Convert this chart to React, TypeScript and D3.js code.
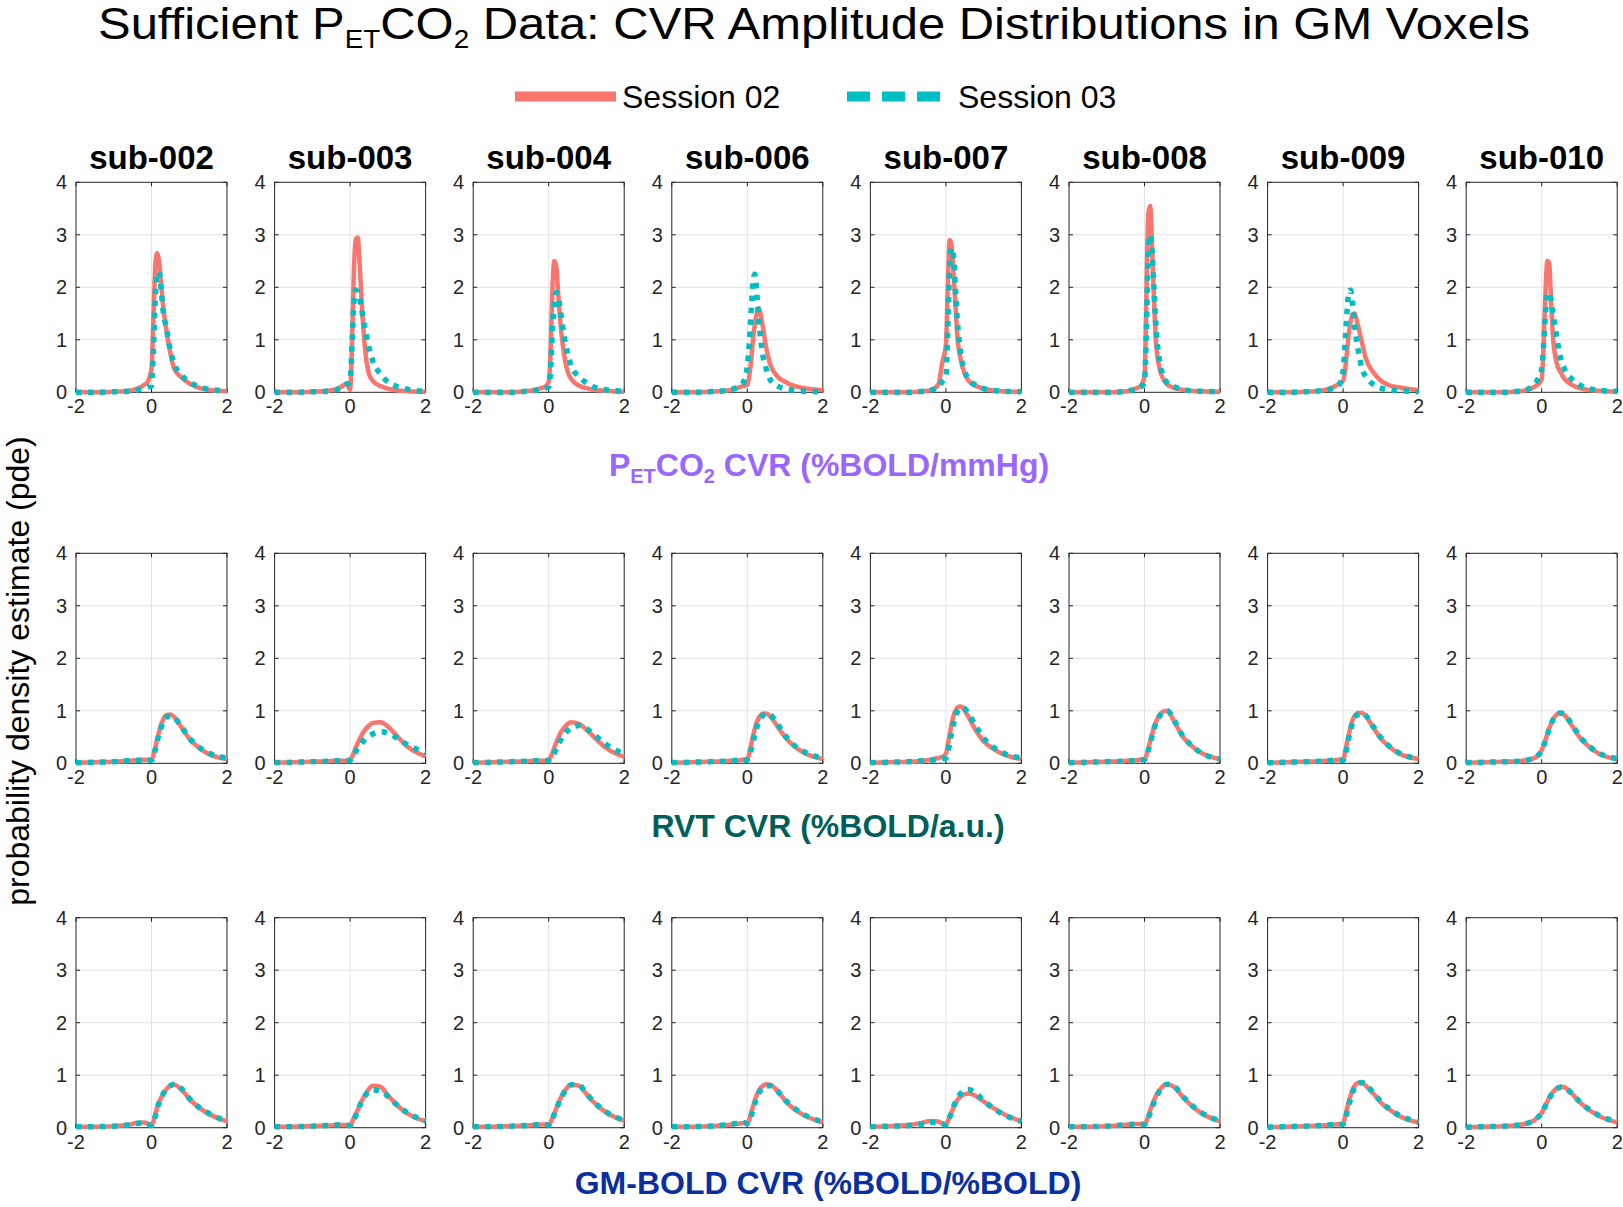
import React from 'react';
import * as d3 from 'd3';

const W = 1623;
const H = 1207;
const FONT = '"Liberation Sans", Arial, Helvetica, sans-serif';
const RED = '#F8766D';
const TEAL = '#00BFC4';

const subjects = ['sub-002', 'sub-003', 'sub-004', 'sub-006', 'sub-007', 'sub-008', 'sub-009', 'sub-010'];
const xTicks = [-2, 0, 2];
const yTicks = [0, 1, 2, 3, 4];
const sessionNames = ['Session 02', 'Session 03'];

// title pieces: [text, isSubscript]
const titleParts: [string, boolean][] = [
  ['Sufficient P', false],
  ['ET', true],
  ['CO', false],
  ['2', true],
  ['\u00A0Data: CVR Amplitude Distributions in GM Voxels', false],
];

// shared evaluation grid of CVR amplitude
const xGrid = [-2, -1.5, -1, -0.6, -0.4, -0.2, -0.1, 0, 0.05, 0.1, 0.15, 0.2, 0.25, 0.3, 0.4, 0.5, 0.6, 0.8, 1.0, 1.2, 1.5, 2.0];

// Row 1: PETCO2 CVR
const petco2S02 = [
  [0, 0, 0.01, 0.03, 0.06, 0.14, 0.2, 0.45, 1.4, 2.4, 2.65, 2.5, 2.1, 1.7, 1.15, 0.75, 0.45, 0.28, 0.17, 0.1, 0.05, 0.02],
  [0, 0, 0.01, 0.03, 0.05, 0.12, 0.17, 0.05, 0.9, 2.3, 2.9, 2.95, 2.5, 1.8, 0.8, 0.35, 0.22, 0.12, 0.07, 0.04, 0.02, 0.01],
  [0, 0, 0, 0.02, 0.04, 0.08, 0.1, 0.2, 0.8, 2.0, 2.5, 2.4, 1.9, 1.4, 0.75, 0.4, 0.25, 0.13, 0.08, 0.05, 0.03, 0.01],
  [0, 0, 0.01, 0.03, 0.05, 0.1, 0.12, 0.15, 0.3, 0.6, 1.0, 1.3, 1.5, 1.6, 1.3, 0.85, 0.55, 0.3, 0.2, 0.13, 0.08, 0.04],
  [0, 0, 0, 0.02, 0.04, 0.15, 0.55, 0.9, 2.0, 2.9, 2.8, 2.3, 1.7, 1.1, 0.6, 0.35, 0.22, 0.12, 0.07, 0.04, 0.02, 0.01],
  [0, 0, 0, 0.01, 0.03, 0.08, 0.12, 0.3, 1.8, 3.4, 3.55, 2.8, 1.8, 1.0, 0.45, 0.25, 0.15, 0.08, 0.05, 0.03, 0.02, 0.01],
  [0, 0, 0.01, 0.03, 0.06, 0.12, 0.17, 0.22, 0.4, 0.75, 1.1, 1.35, 1.48, 1.5, 1.25, 0.95, 0.65, 0.38, 0.22, 0.14, 0.09, 0.04],
  [0, 0, 0, 0.02, 0.04, 0.1, 0.15, 0.25, 0.9, 1.9, 2.5, 2.45, 1.7, 1.05, 0.55, 0.38, 0.26, 0.14, 0.08, 0.05, 0.03, 0.01],
];
const petco2S03 = [
  [0, 0, 0.01, 0.02, 0.04, 0.08, 0.1, 0.12, 0.8, 1.8, 2.25, 2.3, 2.0, 1.6, 1.2, 0.8, 0.55, 0.32, 0.2, 0.12, 0.06, 0.03],
  [0, 0, 0.01, 0.02, 0.04, 0.1, 0.15, 0.2, 0.9, 1.7, 1.95, 1.9, 1.8, 1.6, 1.2, 0.85, 0.6, 0.35, 0.2, 0.12, 0.06, 0.02],
  [0, 0, 0, 0.02, 0.03, 0.06, 0.08, 0.1, 0.4, 1.2, 1.7, 1.9, 1.85, 1.6, 1.1, 0.75, 0.5, 0.3, 0.18, 0.1, 0.05, 0.02],
  [0, 0, 0.01, 0.03, 0.06, 0.12, 0.2, 0.5, 0.9, 1.5, 2.1, 2.25, 1.9, 1.4, 0.75, 0.45, 0.25, 0.12, 0.07, 0.04, 0.02, 0.01],
  [0, 0, 0, 0.02, 0.04, 0.1, 0.2, 0.3, 1.2, 2.4, 2.75, 2.6, 2.0, 1.4, 0.7, 0.4, 0.25, 0.13, 0.07, 0.04, 0.02, 0.01],
  [0, 0, 0, 0.01, 0.03, 0.07, 0.1, 0.2, 1.2, 2.7, 3.0, 2.7, 2.0, 1.3, 0.6, 0.3, 0.18, 0.1, 0.06, 0.03, 0.02, 0.01],
  [0, 0, 0.01, 0.03, 0.05, 0.1, 0.15, 0.4, 0.9, 1.5, 1.9, 1.95, 1.7, 1.3, 0.8, 0.45, 0.3, 0.15, 0.08, 0.05, 0.03, 0.01],
  [0, 0, 0, 0.02, 0.05, 0.15, 0.25, 0.45, 0.9, 1.5, 1.85, 1.9, 1.75, 1.5, 1.05, 0.65, 0.45, 0.25, 0.14, 0.08, 0.04, 0.02],
];

// Row 2: RVT CVR
const rvtS02 = [
  [0.01, 0.02, 0.03, 0.05, 0.06, 0.07, 0.07, 0.07, 0.15, 0.3, 0.45, 0.6, 0.72, 0.82, 0.92, 0.93, 0.88, 0.68, 0.47, 0.33, 0.18, 0.08],
  [0.01, 0.02, 0.03, 0.04, 0.05, 0.05, 0.05, 0.06, 0.12, 0.2, 0.3, 0.38, 0.46, 0.53, 0.64, 0.72, 0.77, 0.78, 0.7, 0.55, 0.33, 0.13],
  [0.01, 0.02, 0.03, 0.04, 0.05, 0.05, 0.05, 0.06, 0.12, 0.2, 0.3, 0.4, 0.48, 0.56, 0.67, 0.75, 0.78, 0.75, 0.64, 0.5, 0.3, 0.12],
  [0.01, 0.02, 0.03, 0.04, 0.05, 0.06, 0.07, 0.08, 0.18, 0.35, 0.52, 0.66, 0.78, 0.86, 0.94, 0.95, 0.9, 0.7, 0.5, 0.35, 0.2, 0.08],
  [0.01, 0.02, 0.03, 0.05, 0.07, 0.1, 0.12, 0.18, 0.35, 0.55, 0.75, 0.9, 1.0, 1.06, 1.08, 1.0, 0.88, 0.62, 0.42, 0.3, 0.18, 0.08],
  [0.01, 0.02, 0.03, 0.04, 0.05, 0.06, 0.07, 0.08, 0.15, 0.28, 0.42, 0.55, 0.68, 0.78, 0.92, 0.99, 1.0, 0.78, 0.52, 0.36, 0.2, 0.08],
  [0.01, 0.02, 0.03, 0.04, 0.05, 0.06, 0.07, 0.07, 0.2, 0.38, 0.55, 0.7, 0.82, 0.9, 0.96, 0.96, 0.9, 0.68, 0.47, 0.33, 0.18, 0.08],
  [0.01, 0.02, 0.03, 0.04, 0.06, 0.1, 0.15, 0.25, 0.35, 0.45, 0.56, 0.67, 0.76, 0.84, 0.93, 0.96, 0.92, 0.72, 0.5, 0.35, 0.19, 0.08],
];
const rvtS03 = [
  [0.01, 0.02, 0.03, 0.05, 0.06, 0.06, 0.06, 0.06, 0.12, 0.26, 0.42, 0.55, 0.67, 0.78, 0.88, 0.9, 0.87, 0.69, 0.48, 0.34, 0.2, 0.1],
  [0.01, 0.02, 0.03, 0.04, 0.05, 0.05, 0.05, 0.06, 0.1, 0.16, 0.22, 0.28, 0.33, 0.38, 0.46, 0.52, 0.56, 0.6, 0.58, 0.5, 0.36, 0.2],
  [0.01, 0.02, 0.03, 0.04, 0.05, 0.05, 0.05, 0.06, 0.08, 0.14, 0.2, 0.27, 0.35, 0.42, 0.53, 0.62, 0.68, 0.72, 0.66, 0.55, 0.37, 0.18],
  [0.01, 0.02, 0.03, 0.04, 0.05, 0.06, 0.06, 0.07, 0.12, 0.25, 0.4, 0.55, 0.68, 0.78, 0.9, 0.95, 0.93, 0.75, 0.53, 0.37, 0.22, 0.1],
  [0.01, 0.02, 0.03, 0.05, 0.06, 0.08, 0.09, 0.1, 0.2, 0.38, 0.58, 0.75, 0.88, 0.98, 1.06, 1.04, 0.95, 0.7, 0.48, 0.34, 0.2, 0.1],
  [0.01, 0.02, 0.03, 0.04, 0.05, 0.05, 0.06, 0.07, 0.12, 0.24, 0.38, 0.52, 0.65, 0.76, 0.9, 0.98, 1.0, 0.8, 0.54, 0.37, 0.2, 0.08],
  [0.01, 0.02, 0.03, 0.04, 0.05, 0.06, 0.06, 0.06, 0.15, 0.3, 0.48, 0.64, 0.77, 0.86, 0.93, 0.95, 0.91, 0.7, 0.49, 0.34, 0.19, 0.09],
  [0.01, 0.02, 0.03, 0.04, 0.06, 0.1, 0.15, 0.24, 0.33, 0.43, 0.54, 0.65, 0.75, 0.83, 0.92, 0.96, 0.93, 0.74, 0.52, 0.36, 0.2, 0.09],
];

// Row 3: GM-BOLD CVR
const gmS02 = [
  [0.02, 0.02, 0.03, 0.06, 0.09, 0.1, 0.08, 0.04, 0.12, 0.25, 0.38, 0.48, 0.56, 0.63, 0.74, 0.8, 0.82, 0.72, 0.55, 0.42, 0.27, 0.12],
  [0.02, 0.02, 0.03, 0.04, 0.05, 0.05, 0.05, 0.04, 0.1, 0.18, 0.26, 0.34, 0.42, 0.5, 0.63, 0.74, 0.8, 0.78, 0.62, 0.46, 0.28, 0.12],
  [0.02, 0.02, 0.03, 0.04, 0.05, 0.06, 0.06, 0.05, 0.1, 0.18, 0.27, 0.36, 0.45, 0.54, 0.67, 0.77, 0.82, 0.8, 0.64, 0.48, 0.3, 0.13],
  [0.02, 0.02, 0.03, 0.05, 0.06, 0.08, 0.09, 0.08, 0.15, 0.28, 0.4, 0.52, 0.62, 0.7, 0.79, 0.83, 0.82, 0.7, 0.52, 0.38, 0.24, 0.1],
  [0.02, 0.03, 0.05, 0.1, 0.13, 0.12, 0.08, 0.06, 0.12, 0.2, 0.3, 0.38, 0.45, 0.52, 0.6, 0.64, 0.65, 0.6, 0.5, 0.4, 0.27, 0.12],
  [0.02, 0.02, 0.03, 0.05, 0.06, 0.07, 0.07, 0.06, 0.12, 0.22, 0.33, 0.43, 0.52, 0.6, 0.72, 0.8, 0.83, 0.77, 0.6, 0.45, 0.28, 0.12],
  [0.01, 0.02, 0.03, 0.04, 0.05, 0.06, 0.07, 0.08, 0.2, 0.35, 0.5, 0.62, 0.72, 0.79, 0.85, 0.85, 0.8, 0.65, 0.48, 0.36, 0.22, 0.1],
  [0.01, 0.02, 0.03, 0.05, 0.08, 0.14, 0.2, 0.28, 0.35, 0.43, 0.5, 0.57, 0.63, 0.68, 0.75, 0.78, 0.77, 0.65, 0.49, 0.37, 0.23, 0.1],
];
const gmS03 = [
  [0.02, 0.02, 0.03, 0.05, 0.08, 0.09, 0.07, 0.04, 0.1, 0.22, 0.36, 0.47, 0.55, 0.63, 0.74, 0.8, 0.83, 0.74, 0.56, 0.42, 0.28, 0.12],
  [0.02, 0.02, 0.03, 0.04, 0.05, 0.05, 0.05, 0.04, 0.08, 0.15, 0.23, 0.32, 0.41, 0.49, 0.61, 0.69, 0.72, 0.7, 0.6, 0.46, 0.29, 0.13],
  [0.02, 0.02, 0.03, 0.04, 0.05, 0.06, 0.06, 0.05, 0.09, 0.17, 0.26, 0.35, 0.44, 0.53, 0.66, 0.76, 0.82, 0.81, 0.65, 0.49, 0.31, 0.14],
  [0.02, 0.02, 0.03, 0.05, 0.07, 0.09, 0.1, 0.08, 0.12, 0.22, 0.34, 0.46, 0.56, 0.65, 0.75, 0.8, 0.8, 0.7, 0.53, 0.4, 0.25, 0.11],
  [0.02, 0.03, 0.04, 0.07, 0.1, 0.1, 0.08, 0.05, 0.1, 0.2, 0.3, 0.4, 0.48, 0.56, 0.66, 0.72, 0.73, 0.65, 0.52, 0.4, 0.26, 0.12],
  [0.02, 0.02, 0.03, 0.05, 0.06, 0.07, 0.07, 0.06, 0.1, 0.18, 0.28, 0.38, 0.48, 0.57, 0.7, 0.79, 0.83, 0.78, 0.61, 0.46, 0.29, 0.13],
  [0.01, 0.02, 0.03, 0.04, 0.05, 0.06, 0.06, 0.07, 0.15, 0.28, 0.43, 0.56, 0.67, 0.76, 0.84, 0.86, 0.82, 0.67, 0.5, 0.37, 0.23, 0.11],
  [0.01, 0.02, 0.03, 0.05, 0.08, 0.14, 0.2, 0.27, 0.34, 0.42, 0.49, 0.56, 0.62, 0.67, 0.74, 0.77, 0.76, 0.65, 0.5, 0.38, 0.24, 0.11],
];

const rows = [
  { s02: petco2S02, s03: petco2S03, color: '#9966FF', label: 'petco2' },
  { s02: rvtS02, s03: rvtS03, color: '#005F5A', label: 'RVT CVR (%BOLD/a.u.)' },
  { s02: gmS02, s03: gmS03, color: '#0A2FA0', label: 'GM-BOLD CVR (%BOLD/%BOLD)' },
];

// layout
const panelLeft0 = 76;
const panelStep = 198.6;
const panelW = 151;
const panelH = 210;
const rowTops = [182.3, 553.3, 917.7];
const rowLabelBaselines = [475.5, 837, 1193.5];

function Panel({ left, top, s02, s03, title }: any) {
  const x = d3.scaleLinear().domain([-2, 2]).range([left, left + panelW]);
  const y = d3.scaleLinear().domain([0, 4]).range([top + panelH, top]);
  const line = d3
    .line<number>()
    .x((_, i) => x(xGrid[i]))
    .y((d) => y(d))
    .curve(d3.curveMonotoneX);
  const tickLen = 4;
  const axisColor = '#262626';
  return (
    <g>
      {yTicks.slice(1, -1).map((t) => (
        <line key={'gy' + t} x1={x(-2)} x2={x(2)} y1={y(t)} y2={y(t)} stroke="#e3e3e3" strokeWidth={1} />
      ))}
      <line x1={x(0)} x2={x(0)} y1={y(0)} y2={y(4)} stroke="#e3e3e3" strokeWidth={1} />
      {yTicks.map((t) => (
        <g key={'ty' + t}>
          <line x1={x(-2)} x2={x(-2) + tickLen} y1={y(t)} y2={y(t)} stroke={axisColor} strokeWidth={1} />
          <line x1={x(2)} x2={x(2) - tickLen} y1={y(t)} y2={y(t)} stroke={axisColor} strokeWidth={1} />
          <text x={x(-2) - 9} y={y(t) + 7} textAnchor="end" fontSize={20} fill="#262626" fontFamily={FONT}>
            {t}
          </text>
        </g>
      ))}
      {xTicks.map((t) => (
        <g key={'tx' + t}>
          <line x1={x(t)} x2={x(t)} y1={y(0)} y2={y(0) - tickLen} stroke={axisColor} strokeWidth={1} />
          <line x1={x(t)} x2={x(t)} y1={y(4)} y2={y(4) + tickLen} stroke={axisColor} strokeWidth={1} />
          <text x={x(t)} y={y(0) + 21} textAnchor="middle" fontSize={20} fill="#262626" fontFamily={FONT}>
            {t}
          </text>
        </g>
      ))}
      <rect x={left} y={top} width={panelW} height={panelH} fill="none" stroke={axisColor} strokeWidth={1} />
      <path d={line(s02) || ''} fill="none" stroke={RED} strokeWidth={4.5} strokeLinejoin="round" />
      <path d={line(s03) || ''} fill="none" stroke={TEAL} strokeWidth={5.5} strokeDasharray="5.5 6.5" />
      {title && (
        <text x={left + panelW / 2} y={169.3} textAnchor="middle" fontSize={33} fontWeight="bold" fill="#000" fontFamily={FONT}>
          {title}
        </text>
      )}
    </g>
  );
}

function Title() {
  const ref = React.useRef<SVGGElement>(null);
  React.useLayoutEffect(() => {
    const g = ref.current;
    if (!g) return;
    const texts = Array.from(g.querySelectorAll('text')) as SVGTextElement[];
    let cx = 0;
    texts.forEach((t) => {
      t.setAttribute('x', String(cx));
      cx += t.getComputedTextLength();
    });
    const target = 1432;
    const s = target / cx;
    g.setAttribute('transform', `translate(98, 38.5) scale(${s}, 1)`);
  }, []);
  let acc = 0;
  return (
    <g ref={ref} transform="translate(98, 38.5) scale(1.11, 1)">
      {titleParts.map(([txt, sub], i) => {
        const el = (
          <text
            key={i}
            x={acc}
            y={sub ? 9 : 0}
            fontSize={sub ? 25 : 44}
            fill="#000"
            fontFamily={FONT}
            style={{ whiteSpace: 'pre' }}
          >
            {txt}
          </text>
        );
        acc += txt.length * (sub ? 14 : 21);
        return el;
      })}
    </g>
  );
}

export default function App() {
  return (
    <svg
      width={W}
      height={H}
      viewBox={`0 0 ${W} ${H}`}
      style={{ position: 'absolute', left: 0, top: 0, background: '#fff' }}
    >
      <rect x={0} y={0} width={W} height={H} fill="#fff" />
      <Title />
      {/* legend */}
      <line x1={515} x2={616} y1={96.5} y2={96.5} stroke={RED} strokeWidth={10} />
      <text x={622} y={107.5} fontSize={32} fill="#000" fontFamily={FONT}>
        {sessionNames[0]}
      </text>
      <line x1={847} x2={940} y1={96.5} y2={96.5} stroke={TEAL} strokeWidth={10} strokeDasharray="23 12" />
      <text x={958} y={107.5} fontSize={32} fill="#000" fontFamily={FONT}>
        {sessionNames[1]}
      </text>
      {/* y label */}
      <text
        transform={`translate(29, 671) rotate(-90)`}
        textAnchor="middle"
        fontSize={32}
        fill="#000"
        fontFamily={FONT}
      >
        probability density estimate (pde)
      </text>
      {rows.map((row, ri) => (
        <g key={'row' + ri}>
          {subjects.map((s, ci) => (
            <Panel
              key={s + ri}
              left={panelLeft0 + ci * panelStep}
              top={rowTops[ri]}
              s02={row.s02[ci]}
              s03={row.s03[ci]}
              title={ri === 0 ? s : null}
            />
          ))}
          {ri === 0 ? (
            <text x={829} y={rowLabelBaselines[ri]} textAnchor="middle" fontSize={32} fontWeight="bold" fill={row.color} fontFamily={FONT}>
              P<tspan fontSize={20} dy={7}>ET</tspan>
              <tspan dy={-7}>CO</tspan>
              <tspan fontSize={20} dy={7}>2</tspan>
              <tspan dy={-7}> CVR (%BOLD/mmHg)</tspan>
            </text>
          ) : (
            <text x={828} y={rowLabelBaselines[ri]} textAnchor="middle" fontSize={32} fontWeight="bold" fill={row.color} fontFamily={FONT}>
              {row.label}
            </text>
          )}
        </g>
      ))}
    </svg>
  );
}
